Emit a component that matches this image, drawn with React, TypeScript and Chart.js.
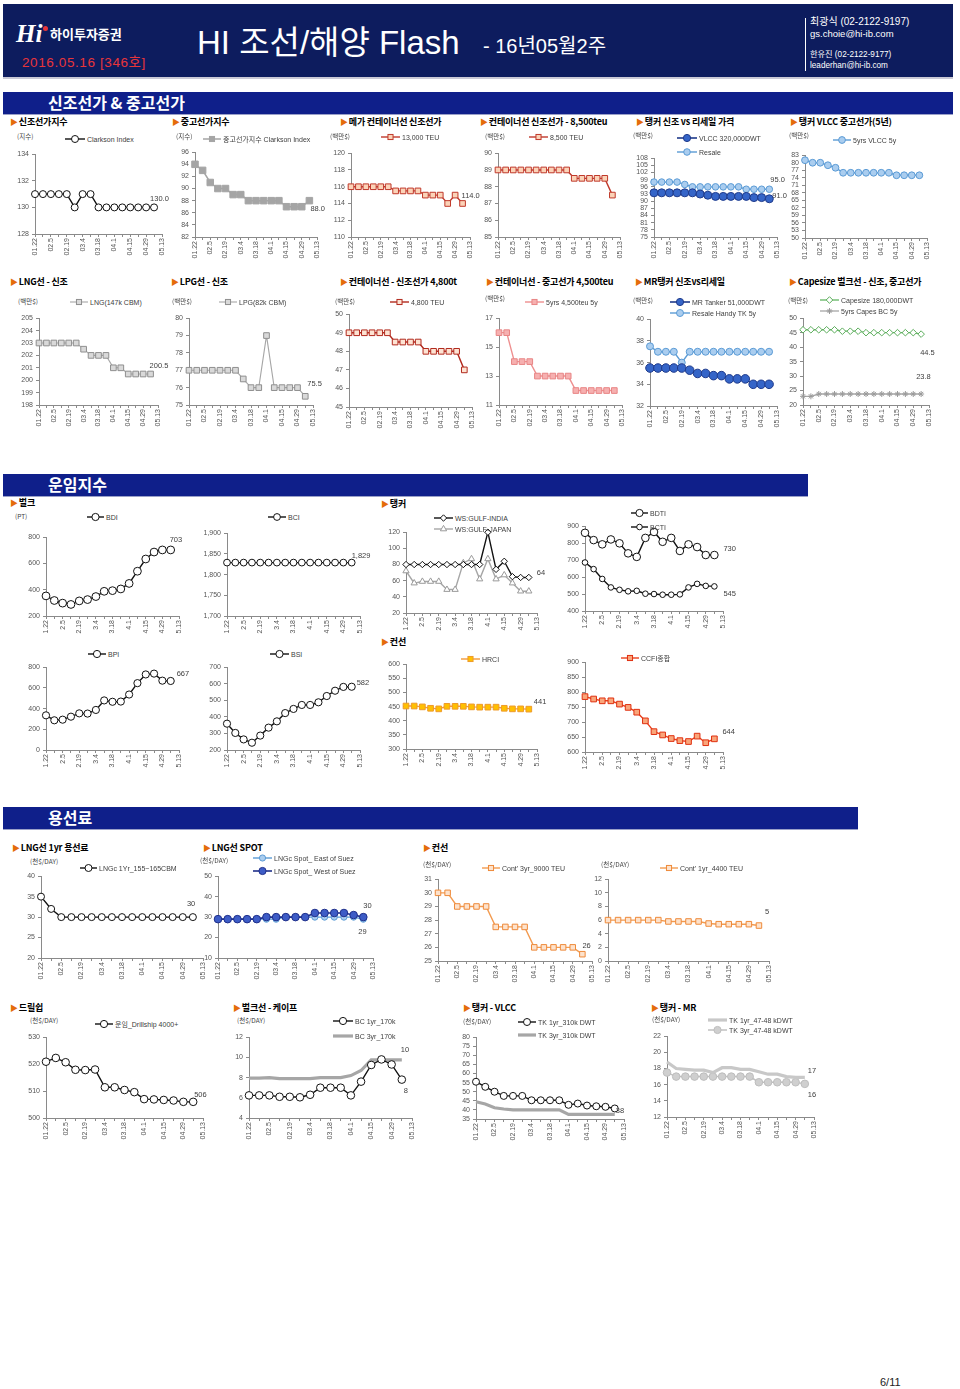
import React, { useEffect, useRef } from "react";
import { Chart, registerables } from "chart.js";
Chart.register(...registerables);

// ---------- categories ----------
const dates = ["01.22","01.29","02.5","02.12","02.19","02.26","03.4","03.11","03.18","03.25","04.1","04.8","04.15","04.22","04.29","05.6","05.13"];
const datesShort = ["1.22","1.29","2.5","2.12","2.19","2.26","3.4","3.11","3.18","3.25","4.1","4.8","4.15","4.22","4.29","5.6","5.13"];

// ---------- 신조선가 & 중고선가 ----------
const clarksonNewbuild = [131,131,131,131,131,130,131,131,130,130,130,130,130,130,130,130];
const clarksonSecondhand = [94,93,91,90,90,89,89,88,88,88,88,88,87,87,87,88];
const teu13000 = [116,116,116,116,116,116,115.5,115.5,115.5,115.5,115,115,115,114,115,114];
const teu8500 = [89,89,89,89,89,89,89,89,89,89,88.5,88.5,88.5,88.5,88.5,87.5];
const vlcc320 = [93.5,93.5,93.5,93.5,93.5,93.5,93,92.5,92,92,92,92,92,91.5,91.5,91];
const vlccResale = [98,98,98,98,97,96,96,96,96,96,96,96,95,95,95,95];
const vlcc5y = [81,80,80,79,78,76,76,76,76,76,76,76,75,75,75,75];
const lng147 = [203,203,203,203,203,203,202.5,202,202,202,201,201,200.5,200.5,200.5,200.5];
const lpg82 = [77,77,77,77,77,77,77,76.5,76,76,79,76,76,76,76,75.5];
const teu4800 = [49,49,49,49,49,49,48.5,48.5,48.5,48.5,48,48,48,48,48,47];
const teu4500Used = [16,16,14,14,14,13,13,13,13,13,12,12,12,12,12,12];
const mrTankerNew = [35.5,35.5,35.5,35.5,35.5,35.3,35,35,34.8,34.8,34.5,34.5,34.5,34,34,34];
const mrResale = [37.5,37,37,37,36,37,37,37,37,37,37,37,37,37,37,37];
const capesizeNew = [46,46,46,46,46,45.5,45.5,45.5,45,45,45,45,45,45,45,44.5];
const capes5y = [23,23,23.8,23.8,23.8,23.8,23.8,23.8,23.8,23.8,23.8,23.8,23.8,23.8,23.8,23.8];

// ---------- 운임지수 ----------
const bdi = [353,318,298,288,315,325,348,388,393,406,448,541,634,687,703,703];
const bci = [1829,1829,1829,1829,1829,1829,1829,1829,1829,1829,1829,1829,1829,1829,1829,1829];
const bpi = [335,287,293,322,354,352,387,479,466,468,536,646,730,738,670,667];
const bsi = [359,303,264,244,287,335,373,423,448,472,472,488,526,558,581,582];
const wsGulfIndia = [80,80,80,80,80,80,80,80,80,80,120,74,84,65,64,64];
const wsGulfJapan = [72,57,59,59,59,49,49,82,87,62,87,62,67,57,47,47];
const bdti = [861,818,793,822,799,740,719,831,866,808,831,754,793,777,730,730];
const bcti = [686,647,589,539,525,516,519,502,500,496,496,498,539,560,548,545];
const hrci = [452,452,449,444,442,451,451,451,449,448,448,448,444,442,442,441];
const ccfi = [785,777,771,771,760,749,733,704,668,657,645,638,635,653,631,644];

// ---------- 용선료 ----------
const lng1yr = [35,32,30,30,30,30,30,30,30,30,30,30,30,30,30,30];
const lngSpotEast = [29,29,29,29,29,29,29,30,30,30,30,30,30,30,30,29];
const lngSpotWest = [29,29,29,29,29,30,30,30,30,30,32,32,32,32,31,30];
const cont9000 = [30,30,29,29,29,29,27.5,27.5,27.5,27.5,26,26,26,26,26,25.5];
const cont4400 = [6,6,6,6,6,6,5.8,5.8,5.8,5.8,5.5,5.4,5.4,5.4,5.4,5.2];
const drillship = [520.9,522.3,520.7,517.9,517.8,518,511.4,511.4,510.4,509.6,507,506.9,506.7,506.5,506,506];
const bc1yr = [6.24,6.24,6.24,6.1,6.1,6.05,6.3,7,7,7,6.24,7.6,9.25,9.8,9.3,7.8];
const bc3yr = [7.95,7.95,8,7.9,7.9,7.9,7.9,8,8,8,8.2,8.7,9.75,9.75,9.75,9.75];
const tk1yr310 = [55.5,52.7,50,47.7,47.7,47.7,45.3,45.3,45.3,45.3,42.8,43.5,42.4,42,41.7,40.8];
const tk3yr310 = [44.5,43.3,41.2,40.5,40,40,40,40,40,40,37.5,37.5,37.5,37.5,37.5,37.5];
const mr1yr = [18.8,18,17.9,17.8,17.8,17.5,18.1,18.1,17.9,17.9,17.6,17.3,17.3,17,16.9,16.9];
const mr3yr = [17.5,17,17,17,17,17,17,17,17,17,16.3,16.3,16.3,16.3,16.3,16.1];

// ---------- styling ----------
const FONT = "'Liberation Sans','Noto Sans CJK KR',sans-serif";
const KFONT = "'Noto Sans CJK KR','Liberation Sans',sans-serif";
Chart.defaults.font.family = FONT;

type S = { label: string; data: number[]; color: string; width?: number; point?: any; radius?: number; fill?: string; border?: string; order?: number };
type Note = { ds: number; dec: number; dx: number; dy: number };
type Leg = { x: number; y: number; w: number };
type Spec = {
  x0: number; x1: number; yTop: number; yBot: number;
  min: number; max: number; step: number; labels: string[];
  series: S[]; notes?: Note[]; legend: Leg[]; unit?: { x: number; y: number; text: string };
};

const blackC = (label: string, data: number[], r = 3.6): S => ({ label, data, color: "#111", width: 1.4, point: "circle", radius: r, fill: "#fff", border: "#111" });
const darkBlue = (label: string, data: number[], r = 4): S => ({ label, data, color: "#1f3a8a", width: 1.6, point: "circle", radius: r, fill: "#3565c8", border: "#1f3a8a" });
const lightBlue = (label: string, data: number[], r = 3.4): S => ({ label, data, color: "#5b9bd5", width: 1.4, point: "circle", radius: r, fill: "#aacdef", border: "#5b9bd5" });
const redSq = (label: string, data: number[]): S => ({ label, data, color: "#c0392b", width: 1.4, point: "rect", radius: 4, fill: "#fbd3b8", border: "#c0392b" });
const graySq = (label: string, data: number[]): S => ({ label, data, color: "#a6a6a6", width: 1.1, point: "rect", radius: 4, fill: "#d9d9d9", border: "#8f8f8f" });
const orangeSq = (label: string, data: number[]): S => ({ label, data, color: "#f39b50", width: 1.4, point: "rect", radius: 3.9, fill: "#fde2cc", border: "#ee8a3a" });
const thickGray = (label: string, data: number[], c = "#a6a6a6"): S => ({ label, data, color: c, width: 3.2, point: false, radius: 0 });

const fmt = (v: number, dec: number) => v.toLocaleString("en-US", { minimumFractionDigits: dec, maximumFractionDigits: dec });

const specs: Spec[] = [
  // Row 1
  { x0: 35, x1: 162, yTop: 153, yBot: 234, min: 128, max: 134, step: 2, labels: dates,
    series: [blackC("Clarkson Index", clarksonNewbuild, 3.5)], notes: [{ ds: 0, dec: 1, dx: -4, dy: -8 }],
    legend: [{ x: 65, y: 139, w: 20 }], unit: { x: 17, y: 137, text: "(지수)" } },
  { x0: 195, x1: 317, yTop: 151, yBot: 237, min: 82, max: 96, step: 2, labels: dates,
    series: [{ label: "중고선가지수  Clarkson Index", data: clarksonSecondhand, color: "#a5a5a5", width: 1.5, point: "rect", radius: 4.6, fill: "#a5a5a5", border: "#a5a5a5" }],
    notes: [{ ds: 0, dec: 1, dx: 1, dy: 8 }], legend: [{ x: 203, y: 139, w: 18 }], unit: { x: 176, y: 137, text: "(지수)" } },
  { x0: 351, x1: 470, yTop: 152, yBot: 237, min: 110, max: 120, step: 2, labels: dates,
    series: [redSq("13,000 TEU", teu13000)], notes: [{ ds: 0, dec: 1, dx: -1, dy: -8 }],
    legend: [{ x: 381, y: 137, w: 19 }], unit: { x: 330, y: 137, text: "(백만$)" } },
  { x0: 498, x1: 620, yTop: 152, yBot: 237, min: 85, max: 90, step: 1, labels: dates,
    series: [redSq("8,500 TEU", teu8500)], legend: [{ x: 529, y: 137, w: 19 }], unit: { x: 485, y: 137, text: "(백만$)" } },
  { x0: 654, x1: 777, yTop: 157, yBot: 237, min: 75, max: 108, step: 3, labels: dates,
    series: [darkBlue("VLCC 320,000DWT", vlcc320, 4), lightBlue("Resale", vlccResale, 3.3)],
    notes: [{ ds: 1, dec: 1, dx: 1, dy: -9 }, { ds: 0, dec: 1, dx: 3, dy: -3 }],
    legend: [{ x: 677, y: 138, w: 20 }, { x: 677, y: 152, w: 20 }], unit: { x: 633, y: 136, text: "(백만$)" } },
  { x0: 805, x1: 927, yTop: 154, yBot: 238, min: 50, max: 83, step: 3, labels: dates,
    series: [lightBlue("5yrs VLCC 5y", vlcc5y, 3.4)], legend: [{ x: 833, y: 140, w: 18 }], unit: { x: 789, y: 136, text: "(백만$)" } },
  // Row 2
  { x0: 39, x1: 158, yTop: 317, yBot: 405, min: 198, max: 205, step: 1, labels: dates,
    series: [graySq("LNG(147k CBM)", lng147)], notes: [{ ds: 0, dec: 1, dx: -1, dy: -8 }],
    legend: [{ x: 70, y: 302, w: 18 }], unit: { x: 18, y: 302, text: "(백만$)" } },
  { x0: 189, x1: 313, yTop: 317, yBot: 405, min: 75, max: 80, step: 1, labels: dates,
    series: [graySq("LPG(82k CBM)", lpg82)], notes: [{ ds: 0, dec: 1, dx: 2, dy: -12 }],
    legend: [{ x: 219, y: 302, w: 18 }], unit: { x: 172, y: 302, text: "(백만$)" } },
  { x0: 349, x1: 472, yTop: 313, yBot: 407, min: 45, max: 50, step: 1, labels: dates,
    series: [{ label: "4,800 TEU", data: teu4800, color: "#b22a1e", width: 1.4, point: "rect", radius: 4, fill: "#fde3d3", border: "#b22a1e" }],
    legend: [{ x: 390, y: 302, w: 19 }], unit: { x: 335, y: 302, text: "(백만$)" } },
  { x0: 499, x1: 622, yTop: 317, yBot: 405, min: 11, max: 17, step: 2, labels: dates,
    series: [{ label: "5yrs 4,500teu 5y", data: teu4500Used, color: "#ee8f8f", width: 1.4, point: "rect", radius: 4, fill: "#f6b0b0", border: "#e88585" }],
    legend: [{ x: 525, y: 302, w: 19 }], unit: { x: 485, y: 299, text: "(백만$)" } },
  { x0: 650, x1: 777, yTop: 318, yBot: 406, min: 32, max: 40, step: 2, labels: dates,
    series: [darkBlue("MR Tanker 51,000DWT", mrTankerNew, 4.3), lightBlue("Resale Handy TK 5y", mrResale, 3.5)],
    legend: [{ x: 670, y: 302, w: 20 }, { x: 670, y: 313, w: 20 }], unit: { x: 633, y: 301, text: "(백만$)" } },
  { x0: 803, x1: 929, yTop: 317, yBot: 405, min: 20, max: 50, step: 5, labels: dates,
    series: [
      { label: "Capesize 180,000DWT", data: capesizeNew, color: "#62b562", width: 1.3, point: "rectRot", radius: 3.3, fill: "#fff", border: "#5aac5a" },
      { label: "5yrs Capes BC 5y", data: capes5y, color: "#a6a6a6", width: 1.3, point: "star", radius: 3, fill: "#a6a6a6", border: "#9a9a9a" },
    ],
    notes: [{ ds: 0, dec: 1, dx: -1, dy: 19 }, { ds: 1, dec: 1, dx: -5, dy: -17 }],
    legend: [{ x: 820, y: 300, w: 19 }, { x: 820, y: 311, w: 19 }], unit: { x: 788, y: 301, text: "(백만$)" } },
  // 운임지수 row A
  { x0: 46, x1: 179, yTop: 536, yBot: 616, min: 200, max: 800, step: 200, labels: datesShort,
    series: [blackC("BDI", bdi, 3.9)], notes: [{ ds: 0, dec: 0, dx: -1, dy: -10 }],
    legend: [{ x: 87, y: 517, w: 17 }], unit: { x: 15, y: 517, text: "(PT)" } },
  { x0: 227, x1: 360, yTop: 532, yBot: 616, min: 1700, max: 1900, step: 50, labels: datesShort,
    series: [blackC("BCI", bci, 3.4)], notes: [{ ds: 0, dec: 0, dx: 0, dy: -7 }], legend: [{ x: 268, y: 517, w: 18 }] },
  { x0: 406, x1: 537, yTop: 531, yBot: 613, min: 20, max: 120, step: 20, labels: datesShort,
    series: [
      { label: "WS:GULF-INDIA", data: wsGulfIndia, color: "#111", width: 1.4, point: "rectRot", radius: 3.2, fill: "#fff", border: "#111" },
      { label: "WS:GULF-JAPAN", data: wsGulfJapan, color: "#a6a6a6", width: 1.4, point: "triangle", radius: 3.6, fill: "#fff", border: "#9a9a9a" },
    ],
    notes: [{ ds: 0, dec: 0, dx: 8, dy: -5 }], legend: [{ x: 434, y: 518, w: 19 }, { x: 434, y: 529, w: 19 }] },
  { x0: 585, x1: 723, yTop: 525, yBot: 611, min: 400, max: 900, step: 100, labels: datesShort,
    series: [blackC("BDTI", bdti, 3.8), blackC("BCTI", bcti, 2.8)],
    notes: [{ ds: 0, dec: 0, dx: 9, dy: -6 }, { ds: 1, dec: 0, dx: 9, dy: 8 }],
    legend: [{ x: 631, y: 513, w: 17 }, { x: 631, y: 527, w: 17 }] },
  // 운임지수 row B
  { x0: 46, x1: 179, yTop: 666, yBot: 750, min: 0, max: 800, step: 200, labels: datesShort,
    series: [blackC("BPI", bpi, 3.6)], notes: [{ ds: 0, dec: 0, dx: 6, dy: -7 }], legend: [{ x: 88, y: 654, w: 18 }] },
  { x0: 227, x1: 360, yTop: 666, yBot: 750, min: 200, max: 700, step: 100, labels: datesShort,
    series: [blackC("BSI", bsi, 3.6)], notes: [{ ds: 0, dec: 0, dx: 5, dy: -4 }], legend: [{ x: 270, y: 654, w: 19 }] },
  { x0: 406, x1: 537, yTop: 663, yBot: 749, min: 300, max: 600, step: 50, labels: datesShort,
    series: [{ label: "HRCI", data: hrci, color: "#f39a3a", width: 1.4, point: "rect", radius: 4, fill: "#ffc000", border: "#ee9a2a" }],
    notes: [{ ds: 0, dec: 0, dx: 5, dy: -7 }], legend: [{ x: 461, y: 659, w: 19 }] },
  { x0: 585, x1: 723, yTop: 661, yBot: 752, min: 600, max: 900, step: 50, labels: datesShort,
    series: [{ label: "CCFI종합", data: ccfi, color: "#e8401c", width: 1.4, point: "rect", radius: 4, fill: "#f9a57a", border: "#e03010" }],
    notes: [{ ds: 0, dec: 0, dx: 8, dy: -7 }], legend: [{ x: 621, y: 658, w: 18 }] },
  // 용선료 row A
  { x0: 41, x1: 203, yTop: 875, yBot: 958, min: 20, max: 40, step: 5, labels: dates,
    series: [blackC("LNGc 1Yr_155~165CBM", lng1yr, 3.5)], notes: [{ ds: 0, dec: 0, dx: -6, dy: -13 }],
    legend: [{ x: 80, y: 868, w: 17 }], unit: { x: 30, y: 862, text: "(천$/DAY)" } },
  { x0: 218, x1: 373, yTop: 875, yBot: 958, min: 10, max: 50, step: 10, labels: dates,
    series: [
      { ...lightBlue("LNGc Spot_ East of Suez", lngSpotEast, 3.1), order: 1 },
      { label: "LNGc Spot_ West of Suez", data: lngSpotWest, color: "#1f2f8a", width: 1.6, point: "circle", radius: 3.8, fill: "#3d5cc6", border: "#1f2f8a", order: 0 },
    ],
    notes: [{ ds: 1, dec: 0, dx: 0, dy: -11 }, { ds: 0, dec: 0, dx: -5, dy: 13 }],
    legend: [{ x: 253, y: 858, w: 19 }, { x: 253, y: 871, w: 19 }], unit: { x: 200, y: 861, text: "(천$/DAY)" } },
  { x0: 438, x1: 592, yTop: 878, yBot: 961, min: 25, max: 31, step: 1, labels: dates,
    series: [orangeSq("Cont' 3yr_9000 TEU", cont9000)], notes: [{ ds: 0, dec: 0, dx: 0, dy: -8 }],
    legend: [{ x: 482, y: 868, w: 18 }], unit: { x: 423, y: 865, text: "(천$/DAY)" } },
  { x0: 608, x1: 769, yTop: 878, yBot: 961, min: 0, max: 12, step: 2, labels: dates,
    series: [orangeSq("Cont' 1yr_4400 TEU", cont4400)], notes: [{ ds: 0, dec: 0, dx: 6, dy: -14 }],
    legend: [{ x: 660, y: 868, w: 18 }], unit: { x: 601, y: 865, text: "(천$/DAY)" } },
  // 용선료 row B
  { x0: 46, x1: 203, yTop: 1036, yBot: 1118, min: 500, max: 530, step: 10, labels: dates,
    series: [blackC("운임_Drillship 4000+", drillship, 3.8)], notes: [{ ds: 0, dec: 0, dx: 1, dy: -7 }],
    legend: [{ x: 95, y: 1024, w: 18 }], unit: { x: 30, y: 1021, text: "(천$/DAY)" } },
  { x0: 249, x1: 412, yTop: 1036, yBot: 1118, min: 4, max: 12, step: 2, labels: dates,
    series: [blackC("BC 1yr_170k", bc1yr, 3.8), thickGray("BC 3yr_170k", bc3yr)],
    notes: [{ ds: 1, dec: 0, dx: -1, dy: -10 }, { ds: 0, dec: 0, dx: 2, dy: 11 }],
    legend: [{ x: 333, y: 1021, w: 20 }, { x: 333, y: 1036, w: 20 }], unit: { x: 237, y: 1021, text: "(천$/DAY)" } },
  { x0: 476, x1: 624, yTop: 1036, yBot: 1119, min: 35, max: 80, step: 5, labels: dates,
    series: [blackC("TK 1yr_310k DWT", tk1yr310, 3.5), thickGray("TK 3yr_310k DWT", tk3yr310)],
    notes: [{ ds: 1, dec: 0, dx: 1, dy: -4 }],
    legend: [{ x: 518, y: 1022, w: 18 }, { x: 518, y: 1035, w: 18 }], unit: { x: 463, y: 1022, text: "(천$/DAY)" } },
  { x0: 667, x1: 814, yTop: 1035, yBot: 1117, min: 12, max: 22, step: 2, labels: dates,
    series: [thickGray("TK 1yr_47-48 kDWT", mr1yr, "#c8c8c8"),
      { label: "TK 3yr_47-48 kDWT", data: mr3yr, color: "#c0c0c0", width: 1.5, point: "circle", radius: 3.8, fill: "#cfcfcf", border: "#bdbdbd" }],
    notes: [{ ds: 0, dec: 0, dx: 3, dy: -6 }, { ds: 1, dec: 0, dx: 3, dy: 11 }],
    legend: [{ x: 708, y: 1020, w: 19 }, { x: 708, y: 1030, w: 19 }], unit: { x: 652, y: 1020, text: "(천$/DAY)" } },
];

// ---------- plugin: value label beside the last point ----------
const endLabels = {
  id: "endLabels",
  afterDatasetsDraw(chart: any, _a: any, opts: any) {
    const notes: Note[] = opts.notes || [];
    const ctx = chart.ctx;
    ctx.save();
    ctx.font = `7.5px ${FONT}`;
    ctx.fillStyle = "#404040";
    ctx.textAlign = "left";
    ctx.textBaseline = "middle";
    for (const n of notes) {
      const data = chart.data.datasets[n.ds].data as (number | null)[];
      let i = data.length - 1;
      while (i >= 0 && data[i] == null) i--;
      const el = chart.getDatasetMeta(n.ds).data[i];
      if (!el) continue;
      ctx.fillText(fmt(data[i] as number, n.dec), el.x + n.dx, el.y + n.dy);
    }
    ctx.restore();
  },
};

const Y_W = 30, X_H = 27, PAD_T = 6, PAD_R = 16;

function LineChart({ spec }: { spec: Spec }) {
  const ref = useRef<HTMLCanvasElement>(null);
  const left = spec.x0 - Y_W;
  const top = spec.yTop - PAD_T;
  const width = spec.x1 - spec.x0 + Y_W + PAD_R;
  const height = spec.yBot - spec.yTop + PAD_T + X_H;
  useEffect(() => {
    const labels = spec.labels;
    const chart = new Chart(ref.current as HTMLCanvasElement, {
      type: "line",
      data: {
        labels,
        datasets: spec.series.map((s) => ({
          label: s.label,
          data: [...s.data, null],
          borderColor: s.color,
          backgroundColor: s.color,
          borderWidth: s.width ?? 1.4,
          pointStyle: s.point || false,
          pointRadius: s.point ? s.radius ?? 3.5 : 0,
          pointBackgroundColor: s.fill ?? s.color,
          pointBorderColor: s.border ?? s.color,
          pointBorderWidth: 1,
          tension: 0,
          fill: false,
          clip: false as any,
          order: s.order ?? 0,
        })),
      },
      options: {
        animation: false,
        responsive: false,
        maintainAspectRatio: false,
        devicePixelRatio: 1,
        events: [],
        layout: { padding: { top: PAD_T, right: PAD_R, left: 0, bottom: 0 } },
        plugins: { legend: { display: false }, tooltip: { enabled: false }, endLabels: { notes: spec.notes || [] } } as any,
        scales: {
          x: {
            type: "category",
            offset: false,
            grid: { display: true, drawOnChartArea: false, drawTicks: true, tickLength: 3, color: "#8a8a8a" },
            border: { display: true, color: "#8a8a8a", width: 1 },
            ticks: {
              autoSkip: false, maxRotation: 90, minRotation: 90, padding: 1,
              font: { size: 7, family: FONT }, color: "#555",
              callback: (_v: any, i: number) => (i % 2 === 0 ? labels[i] : ""),
            },
            afterFit: (s: any) => { s.height = X_H; },
          },
          y: {
            min: spec.min, max: spec.max,
            grid: { display: true, drawOnChartArea: false, drawTicks: true, tickLength: 3, color: "#8a8a8a" },
            border: { display: true, color: "#8a8a8a", width: 1 },
            ticks: {
              stepSize: spec.step, autoSkip: false, padding: 3,
              font: { size: 7, family: FONT }, color: "#555",
              callback: (v: any) => Number(v).toLocaleString("en-US"),
            },
            afterFit: (s: any) => { s.width = Y_W; },
          },
        },
      } as any,
      plugins: [endLabels as any],
    });
    return () => chart.destroy();
  }, []);
  return <canvas ref={ref} width={width} height={height} style={{ position: "absolute", left, top, width, height }} />;
}

function T({ x, y, s, c = "#000", b = false, f = KFONT, ls, children }: any) {
  return (
    <div style={{ position: "absolute", left: x, top: y - s * 0.6, fontSize: s, lineHeight: `${s * 1.2}px`, color: c, fontWeight: b ? 700 : 400, fontFamily: f, whiteSpace: "nowrap", letterSpacing: ls }}>
      {children}
    </div>
  );
}

function Title({ x, y, text }: { x: number; y: number; text: string }) {
  return (
    <T x={x} y={y} s={9} b ls={-0.2}>
      <span style={{ color: "#e46c0a", fontSize: 8, marginRight: 1 }}>▶</span>
      {text}
    </T>
  );
}

function Marker({ s, cx, cy }: { s: S; cx: number; cy: number }) {
  if (!s.point) return null;
  const r = Math.min(s.radius ?? 3, 3.6);
  const fill = s.fill ?? s.color, st = s.border ?? s.color;
  if (s.point === "circle") return <circle cx={cx} cy={cy} r={r} fill={fill} stroke={st} strokeWidth={1} />;
  if (s.point === "rect") { const h = r * Math.SQRT1_2; return <rect x={cx - h} y={cy - h} width={2 * h} height={2 * h} fill={fill} stroke={st} strokeWidth={1} />; }
  if (s.point === "rectRot") return <polygon points={`${cx},${cy - r} ${cx + r},${cy} ${cx},${cy + r} ${cx - r},${cy}`} fill={fill} stroke={st} strokeWidth={1} />;
  if (s.point === "triangle") return <polygon points={`${cx},${cy - r} ${cx + r * 0.87},${cy + r * 0.5} ${cx - r * 0.87},${cy + r * 0.5}`} fill={fill} stroke={st} strokeWidth={1} />;
  if (s.point === "star") return (<g stroke={st} strokeWidth={1}><line x1={cx - r} y1={cy} x2={cx + r} y2={cy} /><line x1={cx} y1={cy - r} x2={cx} y2={cy + r} /><line x1={cx - r * 0.7} y1={cy - r * 0.7} x2={cx + r * 0.7} y2={cy + r * 0.7} /><line x1={cx - r * 0.7} y1={cy + r * 0.7} x2={cx + r * 0.7} y2={cy - r * 0.7} /></g>);
  return null;
}

function Legend({ l, s }: { l: Leg; s: S }) {
  return (
    <div style={{ position: "absolute", left: l.x, top: l.y - 5, height: 10, display: "flex", alignItems: "center", whiteSpace: "nowrap", fontSize: 7, fontFamily: FONT, color: "#404040" }}>
      <svg width={l.w} height={10} style={{ display: "block" }}>
        <line x1={0} y1={5} x2={l.w} y2={5} stroke={s.color} strokeWidth={s.width ?? 1.4} />
        <Marker s={s} cx={l.w / 2} cy={5} />
      </svg>
      <span style={{ marginLeft: 2 }}>{s.label}</span>
    </div>
  );
}

function SectionBar({ y, w, text }: { y: number; w: number; text: string }) {
  return (
    <div style={{ position: "absolute", left: 3, top: y, width: w, height: 22, background: "#0f1f8a", borderBottom: "1px solid #9aa0c8" }}>
      <div style={{ position: "absolute", left: 45, top: 1, fontSize: 16, lineHeight: "19px", fontWeight: 700, color: "#fff", fontFamily: KFONT, whiteSpace: "nowrap" }}>{text}</div>
    </div>
  );
}

export default function App() {
  return (
    <div style={{ position: "absolute", left: 0, top: 0, width: 960, height: 1389, background: "#fff", overflow: "hidden", fontFamily: KFONT }}>
      {/* header */}
      <div style={{ position: "absolute", left: 3, top: 4, width: 950, height: 73, background: "#0d1c5e", borderBottom: "2px solid #c9c9d6" }} />
      <T x={16} y={34} s={25} c="#fff" b f="'Liberation Serif',serif"><i>H</i><i>i</i></T>
      <div style={{ position: "absolute", left: 43, top: 26, width: 5, height: 5, borderRadius: 3, background: "#e8353a" }} />
      <T x={50} y={34} s={13} c="#fff" b>하이투자증권</T>
      <T x={22} y={63} s={13.5} c="#e8353a" f={FONT} ls={0.6}>2016.05.16 [346호]</T>
      <T x={197} y={43} s={33} c="#fff" f={FONT}>HI 조선/해양 Flash</T>
      <T x={483} y={46} s={20} c="#fff" f={FONT}>- 16년05월2주</T>
      <div style={{ position: "absolute", left: 805, top: 18, width: 1, height: 53, background: "#fff" }} />
      <T x={810} y={22} s={10} c="#fff" f={FONT}>최광식 (02-2122-9197)</T>
      <T x={810} y={34} s={9.5} c="#fff" f={FONT}>gs.choie@hi-ib.com</T>
      <T x={810} y={55} s={8.2} c="#fff" f={FONT}>한유진 (02-2122-9177)</T>
      <T x={810} y={66} s={8.2} c="#fff" f={FONT}>leaderhan@hi-ib.com</T>

      <SectionBar y={92} w={950} text="신조선가 & 중고선가" />
      <SectionBar y={474} w={805} text="운임지수" />
      <SectionBar y={807} w={855} text="용선료" />

      <Title x={10} y={122} text="신조선가지수" />
      <Title x={172} y={122} text="중고선가지수" />
      <Title x={340} y={122} text="메가 컨테이너선 신조선가" />
      <Title x={480} y={122} text="컨테이너선 신조선가 - 8,500teu" />
      <Title x={636} y={122} text="탱커 신조 vs 리세일 가격" />
      <Title x={790} y={122} text="탱커 VLCC 중고선가(5년)" />

      <Title x={10} y={282} text="LNG선 - 신조" />
      <Title x={171} y={282} text="LPG선 - 신조" />
      <Title x={340} y={282} text="컨테이너선 - 신조선가 4,800t" />
      <Title x={486} y={282} text="컨테이너선 - 중고선가 4,500teu" />
      <Title x={635} y={282} text="MR탱커 신조vs리세일" />
      <Title x={789} y={282} text="Capesize 벌크선 - 신조, 중고선가" />

      <Title x={10} y={503} text="벌크" />
      <Title x={381} y={504} text="탱커" />
      <Title x={381} y={642} text="컨선" />

      <Title x={12} y={848} text="LNG선 1yr 용선료" />
      <Title x={203} y={848} text="LNG선 SPOT" />
      <Title x={423} y={848} text="컨선" />

      <Title x={10} y={1008} text="드릴쉽" />
      <Title x={233} y={1008} text="벌크선 - 케이프" />
      <Title x={463} y={1008} text="탱커 - VLCC" />
      <Title x={651} y={1008} text="탱커 - MR" />

      {specs.map((sp, i) => (
        <React.Fragment key={i}>
          <LineChart spec={sp} />
          {sp.unit && <T x={sp.unit.x} y={sp.unit.y} s={6.5} c="#404040">{sp.unit.text}</T>}
          {sp.legend.map((l, j) => <Legend key={j} l={l} s={sp.series[j]} />)}
        </React.Fragment>
      ))}

      <T x={880} y={1383} s={11} c="#222" f={FONT}>6/11</T>
    </div>
  );
}
